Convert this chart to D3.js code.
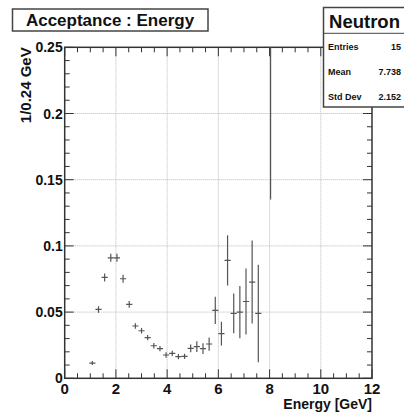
<!DOCTYPE html>
<html>
<head>
<meta charset="utf-8">
<script src="https://cdn.jsdelivr.net/npm/d3@7"></script>
<style>
  body { margin: 0; background: #fff; }
  text { font-family: "Liberation Sans", Arial, Helvetica, sans-serif; font-weight: bold; fill: #111; }
</style>
</head>
<body>
<div class="chart"></div>
<script>
// canvas
var width = 404;
var height = 412;

// data: bin centres (GeV), acceptance per 0.24 GeV, and errors
var energy = [1.08, 1.32, 1.56, 1.80, 2.04, 2.28, 2.52, 2.76, 3.00, 3.24,
              3.48, 3.72, 3.96, 4.20, 4.44, 4.68, 4.92, 5.16, 5.40, 5.64,
              5.88, 6.12, 6.36, 6.60, 6.84, 7.08, 7.32, 7.56, 8.04];
var acceptance = [0.0115, 0.052, 0.0762, 0.091, 0.091, 0.0752, 0.0558, 0.0395, 0.0359, 0.0307,
                  0.0246, 0.0224, 0.0176, 0.0189, 0.0163, 0.0166, 0.0226, 0.0239, 0.0224, 0.0259,
                  0.0513, 0.0337, 0.089, 0.049, 0.050, 0.058, 0.0727, 0.049, 0.5];
var errors = [0.0015, 0.0025, 0.003, 0.003, 0.003, 0.003, 0.0025, 0.002, 0.002, 0.002,
              0.002, 0.002, 0.002, 0.002, 0.002, 0.002, 0.003, 0.004, 0.004, 0.005,
              0.0103, 0.009, 0.019, 0.015, 0.0197, 0.025, 0.0314, 0.0368, 0.365];
var binHalfWidth = 0.12;

var xTicks = [0, 2, 4, 6, 8, 10, 12];
var yTicks = [0, 0.05, 0.1, 0.15, 0.2, 0.25];
var yTickLabels = ["0", "0.05", "0.1", "0.15", "0.2", "0.25"];

var statNames = ["Entries", "Mean", "Std Dev"];
var statValues = ["15", "7.738", "2.152"];

// frame position (note: "top" is taken by window.top)
var fLeft = 64.7, fRight = 372, fTop = 47.3, fBottom = 378.3;

const svg = d3.select(".chart")
              .append("svg")
              .attr("width", width)
              .attr("height", height);

const xScale = d3.scaleLinear().domain([0, 12]).range([fLeft, fRight]);
const yScale = d3.scaleLinear().domain([0, 0.25]).range([fBottom, fTop]);

// grid
svg.append("g")
   .selectAll("line")
   .data(xTicks.slice(1, -1))
   .enter()
   .append("line")
   .attr("x1", d => xScale(d)).attr("x2", d => xScale(d))
   .attr("y1", fTop).attr("y2", fBottom)
   .attr("stroke", "#b8b8b8")
   .attr("stroke-dasharray", "1,1");
svg.append("g")
   .selectAll("line")
   .data(yTicks.slice(1, -1))
   .enter()
   .append("line")
   .attr("x1", fLeft).attr("x2", fRight)
   .attr("y1", d => yScale(d)).attr("y2", d => yScale(d))
   .attr("stroke", "#b8b8b8")
   .attr("stroke-dasharray", "1,1");

// ticks (ROOT style: inside, on all four sides)
var xMinor = d3.range(0, 12.001, 0.5);
var yMinor = d3.range(0, 0.2501, 0.01);
var tickG = svg.append("g").attr("stroke", "#333").attr("stroke-width", 1);
xMinor.forEach(function(v) {
  var len = (Math.abs(v / 2 - Math.round(v / 2)) < 1e-6) ? 9 : 5;
  tickG.append("line").attr("x1", xScale(v)).attr("x2", xScale(v))
       .attr("y1", fBottom).attr("y2", fBottom - len);
  tickG.append("line").attr("x1", xScale(v)).attr("x2", xScale(v))
       .attr("y1", fTop).attr("y2", fTop + len);
});
yMinor.forEach(function(v) {
  var len = (Math.abs(v / 0.05 - Math.round(v / 0.05)) < 1e-6) ? 9 : 5;
  tickG.append("line").attr("y1", yScale(v)).attr("y2", yScale(v))
       .attr("x1", fLeft).attr("x2", fLeft + len);
  tickG.append("line").attr("y1", yScale(v)).attr("y2", yScale(v))
       .attr("x1", fRight).attr("x2", fRight - len);
});

// frame
svg.append("rect")
   .attr("x", fLeft).attr("y", fTop)
   .attr("width", fRight - fLeft).attr("height", fBottom - fTop)
   .attr("fill", "none")
   .attr("stroke", "#333")
   .attr("stroke-width", 1.5);

// tick labels
svg.append("g")
   .selectAll("text")
   .data(xTicks)
   .enter()
   .append("text")
   .attr("x", d => xScale(d))
   .attr("y", 394)
   .attr("text-anchor", "middle")
   .style("font-size", "15px")
   .text(d => d);
svg.append("g")
   .selectAll("text")
   .data(yTicks)
   .enter()
   .append("text")
   .attr("x", fLeft - 2)
   .attr("y", d => yScale(d) + 5)
   .attr("text-anchor", "end")
   .style("font-size", "14px")
   .text((d, i) => yTickLabels[i]);

// axis titles
svg.append("text")
   .attr("x", fRight)
   .attr("y", 409)
   .attr("text-anchor", "end")
   .style("font-size", "14px")
   .text("Energy [GeV]");
svg.append("text")
   .attr("transform", "translate(31," + fTop + ") rotate(-90)")
   .attr("text-anchor", "end")
   .style("font-size", "15px")
   .text("1/0.24 GeV");

// error bars
svg.append("clipPath")
   .attr("id", "frame-clip")
   .append("rect")
   .attr("x", fLeft).attr("y", fTop)
   .attr("width", fRight - fLeft).attr("height", fBottom - fTop);
var bars = svg.append("g")
              .attr("clip-path", "url(#frame-clip)")
              .attr("stroke", "#555")
              .attr("stroke-width", 1.2);
bars.selectAll("line.v")
    .data(energy)
    .enter()
    .append("line")
    .attr("class", "v")
    .attr("x1", d => xScale(d)).attr("x2", d => xScale(d))
    .attr("y1", (d, i) => yScale(acceptance[i] - errors[i]))
    .attr("y2", (d, i) => yScale(acceptance[i] + errors[i]));
bars.selectAll("line.h")
    .data(energy)
    .enter()
    .append("line")
    .attr("class", "h")
    .attr("x1", d => xScale(d - binHalfWidth)).attr("x2", d => xScale(d + binHalfWidth))
    .attr("y1", (d, i) => yScale(acceptance[i]))
    .attr("y2", (d, i) => yScale(acceptance[i]));

// title box
svg.append("rect")
   .attr("x", 12.5).attr("y", 9)
   .attr("width", 195.5).attr("height", 22)
   .attr("fill", "#fff")
   .attr("stroke", "#444")
   .attr("stroke-width", 1.5);
svg.append("text")
   .attr("x", 110).attr("y", 25.5)
   .attr("text-anchor", "middle")
   .style("font-size", "17px")
   .text("Acceptance : Energy");

// stats box
var stats = svg.append("g");
stats.append("rect")
     .attr("x", 323.5).attr("y", 7.5)
     .attr("width", 90).attr("height", 99.5)
     .attr("fill", "#fff")
     .attr("stroke", "#444")
     .attr("stroke-width", 1.5);
stats.append("line")
     .attr("x1", 323.5).attr("x2", 404)
     .attr("y1", 33.3).attr("y2", 33.3)
     .attr("stroke", "#444");
stats.append("text")
     .attr("x", 364.5).attr("y", 27.5)
     .attr("text-anchor", "middle")
     .style("font-size", "18.5px")
     .text("Neutron");
stats.selectAll("text.name")
     .data(statNames)
     .enter()
     .append("text")
     .attr("class", "name")
     .attr("x", 328)
     .attr("y", (d, i) => 49.5 + i * 25.2)
     .style("font-size", "9px")
     .text(d => d);
stats.selectAll("text.val")
     .data(statValues)
     .enter()
     .append("text")
     .attr("class", "val")
     .attr("x", 401)
     .attr("y", (d, i) => 49.5 + i * 25.2)
     .attr("text-anchor", "end")
     .style("font-size", "9px")
     .text(d => d);
</script>
</body>
</html>
